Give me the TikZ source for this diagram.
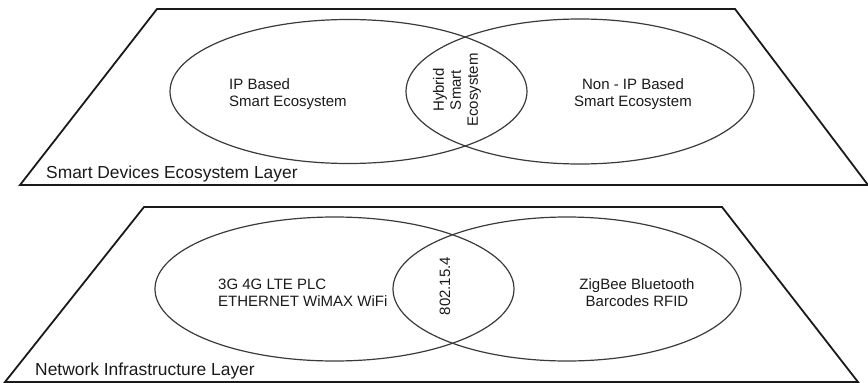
\documentclass[tikz,border=0pt]{standalone}
\usepackage{fontspec}
\setmainfont{Liberation Sans}
\usetikzlibrary{shapes.geometric}
\definecolor{ink}{HTML}{1A1A1A}
\definecolor{rim}{HTML}{3A3A3A}
\tikzset{
  layer/.style={draw=ink, line width=1.8pt, line join=miter},
  domain/.style={ellipse, draw=rim, line width=1.2pt, inner sep=0pt,
                 minimum width=#1},
  domain/.default=356pt,
  label/.style={text=ink, font=\fontsize{15}{17}\selectfont, inner sep=0pt},
  layername/.style={text=ink, font=\fontsize{17.4}{20}\selectfont, inner sep=0pt}
}
\begin{document}
\begin{tikzpicture}[x=1pt, y=-1pt]
  \useasboundingbox (0,0) rectangle (868,383);
  % smart devices ecosystem layer
  \draw[layer] (157,9) -- (735,9) -- (868,185) -- (20,185) -- cycle;
  \node[domain=357pt, minimum height=144pt] (ip) at (348.5,91.5) {};
  \node[domain=348pt, minimum height=145pt] (nonip) at (580,91.5) {};
  \node[label, align=left, anchor=west] (iptext) at (229,94) {IP Based\\Smart Ecosystem};
  \node[label, align=center] (noniptext) at (633,94) {Non - IP Based\\Smart Ecosystem};
  \node[label, align=center, rotate=90] (hybrid) at (457,90) {Hybrid\\Smart\\Ecosystem};
  \node[layername, anchor=base west] (top) at (46,178) {Smart Devices Ecosystem Layer};
  % network infrastructure layer
  \draw[layer] (144,207) -- (722,207) -- (858,382) -- (5,382) -- cycle;
  \node[domain=359pt, minimum height=144pt] (wired) at (334.5,289) {};
  \node[domain=348pt, minimum height=144pt] (wireless) at (567,289) {};
  \node[label, align=left, anchor=west] (wiredtext) at (218,293) {3G 4G LTE PLC\\ETHERNET WiMAX WiFi};
  \node[label, align=center] (wirelesstext) at (637,293) {ZigBee Bluetooth\\Barcodes RFID};
  \node[label, rotate=90] (ieee) at (445,286) {802.15.4};
  \node[layername, anchor=base west] (bottom) at (35,375) {Network Infrastructure Layer};
\end{tikzpicture}
\end{document}
